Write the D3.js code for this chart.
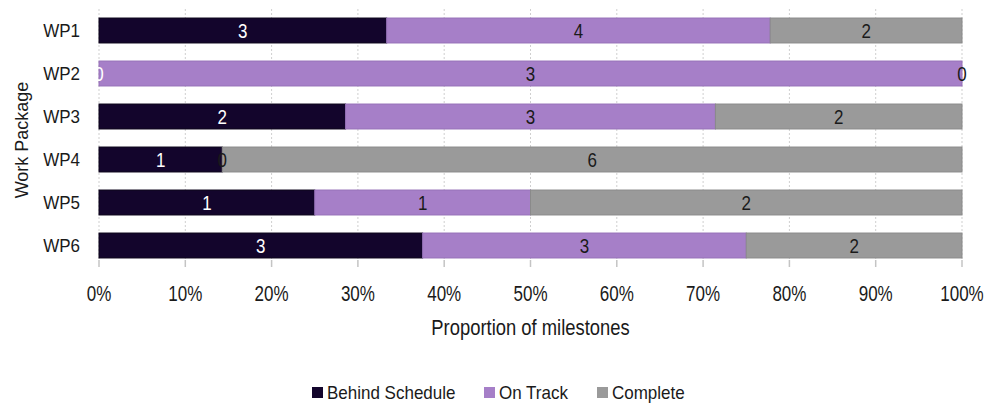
<!DOCTYPE html>
<html>
<head>
<meta charset="utf-8">
<script src="https://cdn.jsdelivr.net/npm/d3@7"></script>
<style>
  body { margin: 0; background: #fff; }
  text { font-family: "Liberation Sans", Arial, sans-serif; }
</style>
</head>
<body>
<script>
var width = 998;
var height = 403;

var packages = ["WP1", "WP2", "WP3", "WP4", "WP5", "WP6"];
var seriesNames = ["Behind Schedule", "On Track", "Complete"];
var behindSchedule = [3, 0, 2, 1, 1, 3];
var onTrack = [4, 3, 3, 0, 1, 3];
var complete = [2, 0, 2, 6, 2, 2];
var xTicks = [0, 0.1, 0.2, 0.3, 0.4, 0.5, 0.6, 0.7, 0.8, 0.9, 1];

var fills = ["#13052c", "#a67fc8", "#9a9a9a"];
var strokes = ["#0a0218", "#9570b8", "#8a8a8a"];
var labelColors = ["#ffffff", "#1a1a1a", "#1a1a1a"];
var textColor = "#1a1a1a";

var plotLeft = 99, plotRight = 962, plotTop = 9, plotBottom = 267;

var svg = d3.select("body").append("svg")
  .attr("width", width)
  .attr("height", height);

var x = d3.scaleLinear().domain([0, 1]).range([plotLeft, plotRight]);
var y = d3.scaleBand().domain(packages).range([plotTop, plotBottom]).paddingInner(0.42).paddingOuter(0.21);

// the source text is a little taller than it is wide, so stretch it vertically
var placeText = function(sel, fx, fy, sy) {
  return sel.attr("transform", function(d, i) {
    return "translate(" + fx(d, i) + "," + fy(d, i) + ") scale(1," + sy + ")";
  });
};

// gridlines
svg.append("g").selectAll("line.grid")
  .data(xTicks)
  .enter().append("line")
    .attr("x1", function(d) { return x(d); })
    .attr("x2", function(d) { return x(d); })
    .attr("y1", plotTop)
    .attr("y2", plotBottom - 7)
    .attr("stroke", "#cfcfcf")
    .attr("stroke-width", 1)
    .attr("stroke-dasharray", "2,2");

// tick marks
svg.append("g").selectAll("line.tick")
  .data(xTicks)
  .enter().append("line")
    .attr("x1", function(d) { return x(d); })
    .attr("x2", function(d) { return x(d); })
    .attr("y1", plotBottom - 7)
    .attr("y2", plotBottom)
    .attr("stroke", "#c4c4c4")
    .attr("stroke-width", 1.5);

var rows = packages.map(function(p, i) {
  return { name: p, values: [behindSchedule[i], onTrack[i], complete[i]] };
});

var stack = [];
rows.forEach(function(r) {
  var total = d3.sum(r.values);
  var acc = 0;
  r.values.forEach(function(v, s) {
    stack.push({ name: r.name, series: s, value: v, x0: acc / total, x1: (acc + v) / total });
    acc += v;
  });
});

svg.append("g").selectAll("rect.seg")
  .data(stack.filter(function(d) { return d.value > 0; }))
  .enter().append("rect")
    .attr("x", function(d) { return x(d.x0); })
    .attr("width", function(d) { return x(d.x1) - x(d.x0); })
    .attr("y", function(d) { return y(d.name); })
    .attr("height", y.bandwidth())
    .attr("fill", function(d) { return fills[d.series]; })
    .attr("stroke", function(d) { return strokes[d.series]; })
    .attr("stroke-width", 1);

placeText(svg.append("g").selectAll("text.val")
  .data(stack)
  .enter().append("text"),
    function(d) { return x((d.x0 + d.x1) / 2); },
    function(d) { return y(d.name) + y.bandwidth() / 2; }, 1.15)
    .attr("dy", "0.36em")
    .attr("text-anchor", "middle")
    .attr("font-size", 17)
    .attr("fill", function(d) { return labelColors[d.series]; })
    .text(function(d) { return d.value; });

// y labels
placeText(svg.append("g").selectAll("text.cat")
  .data(packages)
  .enter().append("text"),
    function() { return plotLeft - 19; },
    function(d) { return y(d) + y.bandwidth() / 2; }, 1.1)
    .attr("dy", "0.36em")
    .attr("text-anchor", "end")
    .attr("font-size", 17)
    .attr("fill", textColor)
    .text(function(d) { return d; });

// x labels
placeText(svg.append("g").selectAll("text.xl")
  .data(xTicks)
  .enter().append("text"),
    function(d) { return x(d); },
    function() { return 293; }, 1.25)
    .attr("dy", "0.36em")
    .attr("text-anchor", "middle")
    .attr("font-size", 17)
    .attr("fill", textColor)
    .text(d3.format(".0%"));

svg.append("text")
  .attr("transform", "translate(" + ((plotLeft + plotRight) / 2) + ",327) scale(1,1.2)")
  .attr("dy", "0.36em")
  .attr("text-anchor", "middle")
  .attr("font-size", 18.4)
  .attr("fill", textColor)
  .text("Proportion of milestones");

svg.append("text")
  .attr("transform", "translate(22,140) rotate(-90)")
  .attr("dy", "0.36em")
  .attr("text-anchor", "middle")
  .attr("font-size", 18)
  .attr("fill", textColor)
  .text("Work Package");

// legend
var legendX = [312, 484, 597];
var legend = svg.append("g").selectAll("g.leg")
  .data(seriesNames)
  .enter().append("g")
    .attr("transform", function(d, i) { return "translate(" + legendX[i] + ",392)"; });
legend.append("rect")
  .attr("x", 0).attr("y", -5)
  .attr("width", 11).attr("height", 11)
  .attr("fill", function(d, i) { return fills[i]; });
legend.append("text")
  .attr("transform", "translate(15,0) scale(1,1.1)")
  .attr("dy", "0.36em")
  .attr("font-size", 17)
  .attr("fill", textColor)
  .text(function(d) { return d; });
</script>
</body>
</html>
